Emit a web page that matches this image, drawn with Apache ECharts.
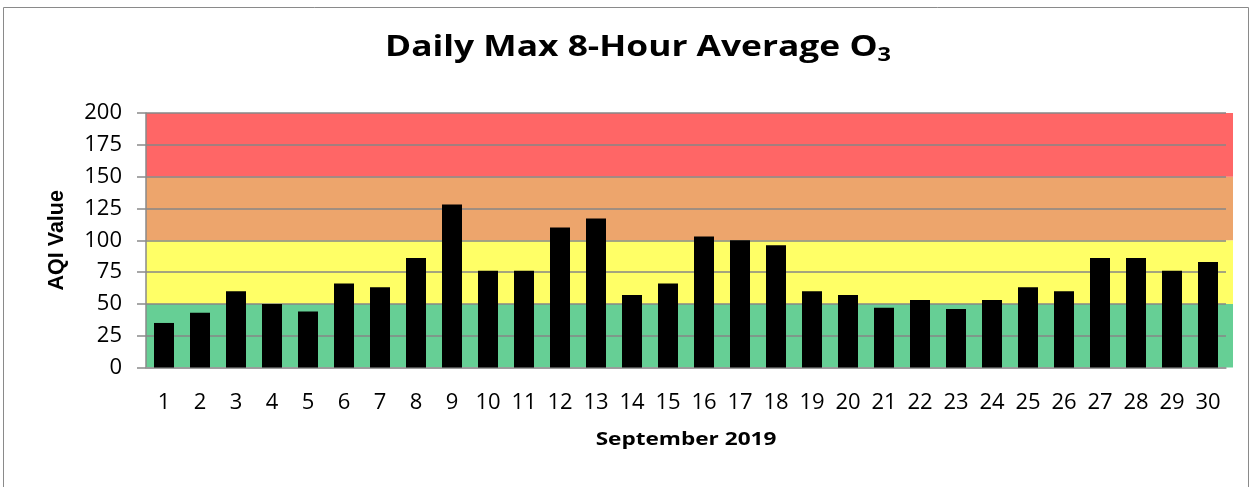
<!DOCTYPE html>
<html>
<head>
<meta charset="utf-8">
<script src="https://cdn.jsdelivr.net/npm/echarts@6/dist/echarts.min.js"></script>
<style>
html,body{margin:0;padding:0;background:#fff;}
#c{width:1253px;height:487px;}
</style>
</head>
<body>
<div id="c"></div>
<script>
const days = ['1','2','3','4','5','6','7','8','9','10','11','12','13','14','15','16','17','18','19','20','21','22','23','24','25','26','27','28','29','30'];
const aqiValues = [35,43,60,50,44,66,63,86,128,76,76,110,117,57,66,103,100,96,60,57,47,53,46,53,63,60,86,86,76,83];
const bandLimits = [[0,50],[50,100],[100,150],[150,200]];
const bandColors = ['#66CF95','#FFFF66','#EDA56C','#FF6666'];
const yTicks = {min:0, max:200, interval:25};
const titleMain = 'Daily Max 8-Hour Average O';
const titleSub = '3';
const xName = 'September 2019';
const yName = 'AQI Value';

const chart = echarts.init(document.getElementById('c'), null, {renderer:'canvas'});
const F = '"Open Sans", "Liberation Sans", sans-serif';
chart.setOption({
  animation:false,
  backgroundColor:'#fff',
  graphic:[
    {type:'rect', shape:{x:3.5,y:7.5,width:1245,height:520}, style:{fill:null, stroke:'#8a8a8a', lineWidth:1}, silent:true, z:-10},
    {type:'text', x:638, y:48, scaleX:1.24, silent:true, z:10,
      style:{
        text:'{m|'+titleMain+'}{s|'+titleSub+'}',
        align:'center', verticalAlign:'middle',
        rich:{
          m:{fontFamily:F, fontSize:28.5, fontWeight:'bold', fill:'#000', lineHeight:34},
          s:{fontFamily:F, fontSize:19, fontWeight:'bold', fill:'#000', lineHeight:18, verticalAlign:'bottom'}
        }
      }},
    {type:'text', x:686, y:440, scaleX:1.22, silent:true, z:10,
      style:{text:xName, align:'center', verticalAlign:'middle', fontFamily:F, fontSize:18.5, fontWeight:'bold', fill:'#000'}}
  ],
  grid:{left:146, right:27, top:113, bottom:119.5, containLabel:false},
  xAxis:{
    type:'category', data:days, z:1,
    axisLine:{show:true, lineStyle:{color:'#9a9a9a', width:1.5}},
    axisTick:{show:false},
    axisLabel:{color:'#000', fontFamily:F, fontSize:22, margin:24, interval:0}
  },
  yAxis:{
    type:'value', min:yTicks.min, max:yTicks.max, interval:yTicks.interval, z:1,
    axisLine:{show:true, lineStyle:{color:'#8a8a8a', width:1.5}},
    axisTick:{show:true, length:9, lineStyle:{color:'#8a8a8a', width:1.5}},
    axisLabel:{color:'#000', fontFamily:F, fontSize:22, margin:24},
    splitLine:{show:true, lineStyle:{color:'#878787', width:1.5}},
    name:yName, nameLocation:'middle', nameGap:78, nameRotate:90,
    nameTextStyle:{color:'#000', fontFamily:'"Liberation Sans", Arial, sans-serif', fontSize:21.5, fontWeight:'bold'}
  },
  series:[
    {
      type:'custom', z:0, silent:true, clip:false,
      data: bandLimits.map(b=>[0, b[0], b[1]]),
      encode:{x:0, y:[1,2]},
      renderItem:function(params, api){
        const cs = params.coordSys;
        const yLow = api.coord([0, api.value(1)])[1];
        const yHigh = api.coord([0, api.value(2)])[1];
        return {type:'rect', shape:{x:cs.x, y:yHigh, width:cs.width+7, height:yLow-yHigh},
                style:{fill:bandColors[params.dataIndex]}};
      }
    },
    {
      type:'bar', data:aqiValues, barWidth:20, z:2,
      itemStyle:{color:'#000'}
    }
  ]
});
</script>
</body>
</html>
